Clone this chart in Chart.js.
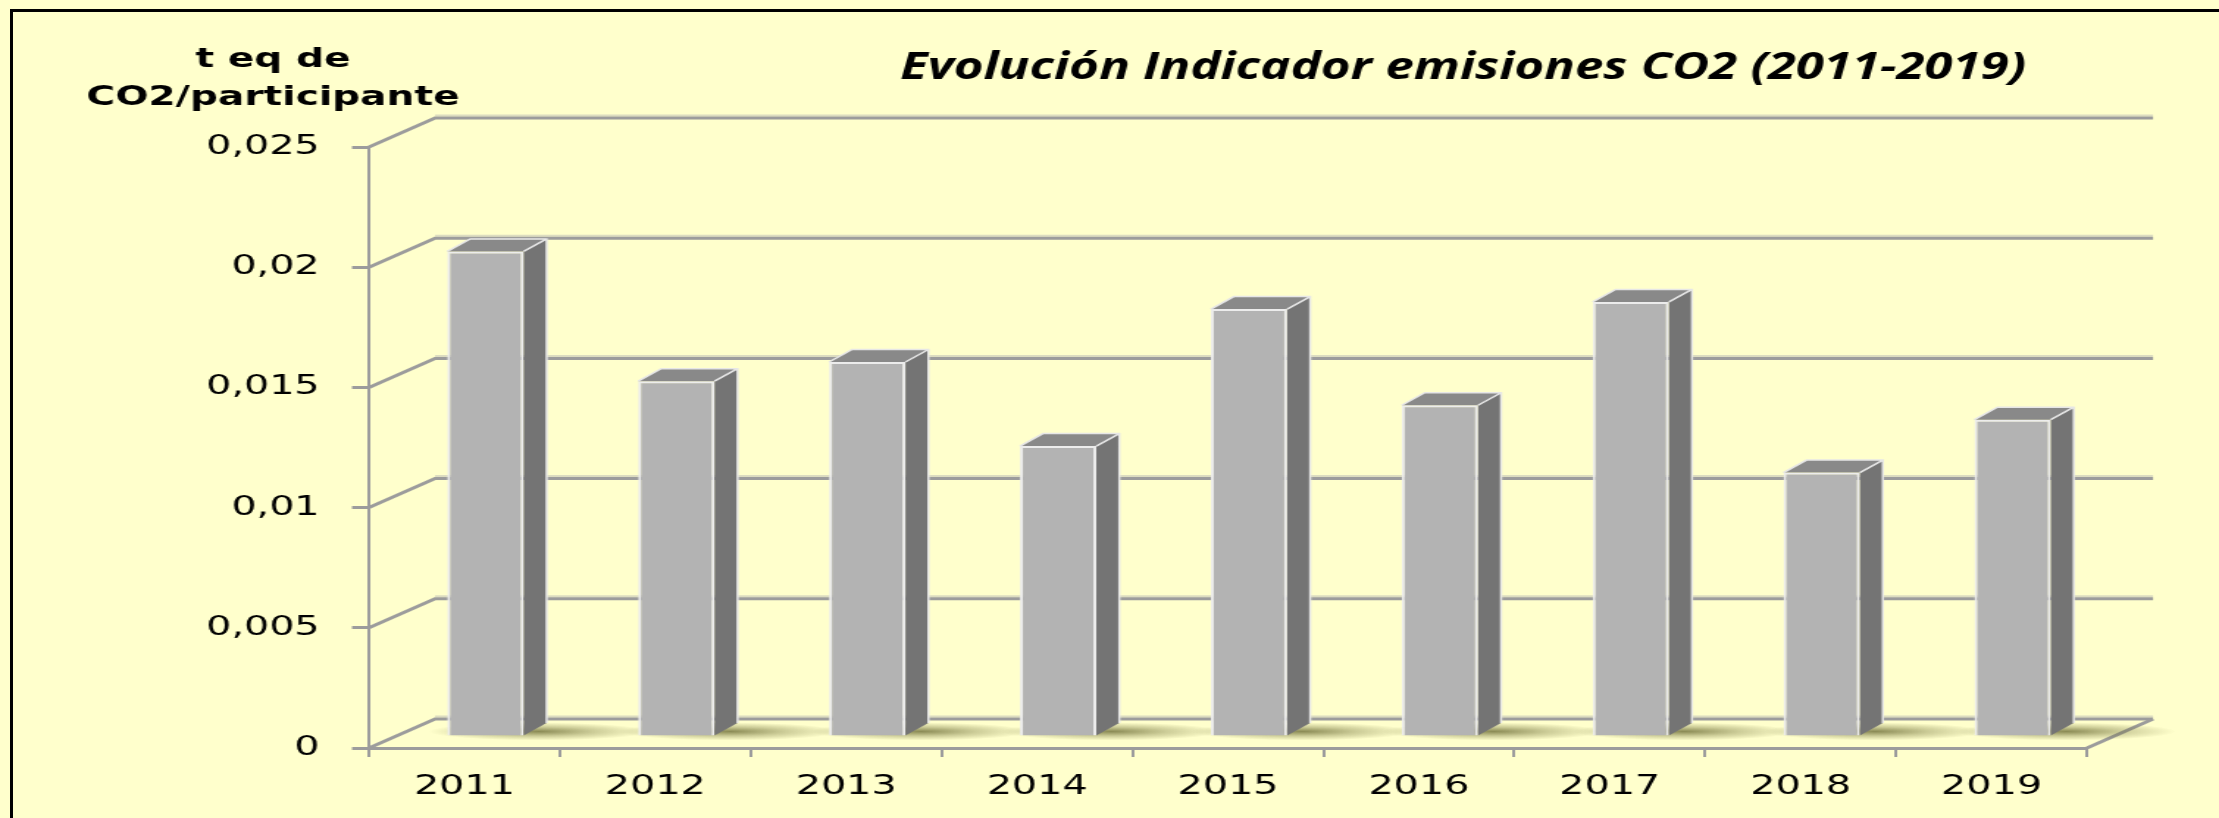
<!DOCTYPE html>
<html lang="es">
<head>
<meta charset="utf-8">
<title>Evolución Indicador emisiones CO2 (2011-2019)</title>
<script src="https://cdn.jsdelivr.net/npm/chart.js@4.4.1/dist/chart.umd.min.js"></script>
<style>
  html, body { margin: 0; padding: 0; background: #ffffcc; overflow: hidden; }
  #chart { position: absolute; left: 0; top: 0; }
  #frame { position: absolute; left: 10px; top: 9px; right: -10px; bottom: -10px;
           border-left: 3px solid #000; border-top: 3px solid #000; pointer-events: none; }
</style>
</head>
<body>
<canvas id="chart" width="1510" height="818" style="width:2219px;height:818px"></canvas>
<div id="frame"></div>
<script>
const years = ['2011', '2012', '2013', '2014', '2015', '2016', '2017', '2018', '2019'];
const emissions = [0.0202, 0.0148, 0.0156, 0.0121, 0.0178, 0.0138, 0.0181, 0.0110, 0.0132];
const yTickLabels = ['0', '0,005', '0,01', '0,015', '0,02', '0,025'];
const chartTitle = 'Evolución Indicador emisiones CO2 (2011-2019)';
const yTitle = ['t eq de', 'CO2/participante'];

// The original picture is stretched sideways, so the canvas is drawn narrower
// and widened by css. sx() turns screen px into canvas px horizontally.
const SX = 2219 / 1510;
const sx = v => v / SX;

const DEPTH = {x: sx(66), y: -29};       // back wall offset
const BAR_SHIFT = {x: sx(21), y: -11};   // bars stand a bit into the floor
const BAR_DEPTH = {x: sx(23), y: -12.5};
const GRID = '#9c9c9c';

const wall3d = {
    id: 'wall3d',
    beforeDatasetsDraw(chart) {
        const {ctx, chartArea: a, scales: {y}} = chart;
        ctx.save();
        y.ticks.forEach(t => {
            const yy = y.getPixelForValue(t.value);
            //light line under the grid line
            ctx.strokeStyle = '#dcdcc0';
            ctx.lineWidth = 2;
            ctx.beginPath();
            ctx.moveTo(a.left + DEPTH.x, yy + DEPTH.y - 2.5);
            ctx.lineTo(a.right + DEPTH.x, yy + DEPTH.y - 2.5);
            ctx.stroke();
            ctx.strokeStyle = GRID;
            ctx.lineWidth = 3;
            ctx.beginPath();
            ctx.moveTo(a.left, yy);
            ctx.lineTo(a.left + DEPTH.x, yy + DEPTH.y);
            ctx.lineTo(a.right + DEPTH.x, yy + DEPTH.y);
            ctx.stroke();
        });
        // right edge of the floor
        const y0 = y.getPixelForValue(0);
        ctx.beginPath();
        ctx.moveTo(a.right, y0);
        ctx.lineTo(a.right + DEPTH.x, y0 + DEPTH.y);
        ctx.stroke();

        // soft shadows on the floor
        chart.getDatasetMeta(0).data.forEach(bar => {
            const cx = bar.x + bar.width / 2 + BAR_SHIFT.x + sx(15);
            const cy = bar.base + BAR_SHIFT.y - 4;
            ctx.save();
            ctx.translate(cx, cy);
            ctx.scale(sx(110) / 9, 1);
            const g = ctx.createRadialGradient(0, 0, 0, 0, 0, 9);
            g.addColorStop(0, 'rgba(110,110,55,0.8)');
            g.addColorStop(0.5, 'rgba(110,110,55,0.35)');
            g.addColorStop(1, 'rgba(110,110,55,0)');
            ctx.fillStyle = g;
            ctx.beginPath();
            ctx.arc(0, 0, 9, 0, Math.PI * 2);
            ctx.fill();
            ctx.restore();
        });
        ctx.restore();

        ctx.save();
        ctx.translate(BAR_SHIFT.x, BAR_SHIFT.y);
    },
    afterDatasetsDraw(chart) {
        const ctx = chart.ctx;
        const dx = BAR_DEPTH.x, dy = BAR_DEPTH.y;
        chart.getDatasetMeta(0).data.forEach(bar => {
            const l = bar.x - bar.width / 2, r = bar.x + bar.width / 2;
            const t = bar.y, b = bar.base;
            ctx.fillStyle = '#747474';
            ctx.beginPath();
            ctx.moveTo(r, t); ctx.lineTo(r + dx, t + dy); ctx.lineTo(r + dx, b + dy); ctx.lineTo(r, b);
            ctx.closePath();
            ctx.fill();
            ctx.fillStyle = '#898989';
            ctx.beginPath();
            ctx.moveTo(l, t); ctx.lineTo(l + dx, t + dy); ctx.lineTo(r + dx, t + dy); ctx.lineTo(r, t);
            ctx.closePath();
            ctx.fill();
            ctx.strokeStyle = '#e6e6e6';
            ctx.lineWidth = 1.5;
            ctx.beginPath();
            ctx.moveTo(l, t); ctx.lineTo(l + dx, t + dy); ctx.lineTo(r + dx, t + dy); ctx.lineTo(r + dx, b + dy);
            ctx.moveTo(r + dx, t + dy); ctx.lineTo(r, t);
            ctx.stroke();
        });
        ctx.restore();
    },
    afterDraw(chart) {
        const ctx = chart.ctx;
        ctx.save();
        ctx.fillStyle = '#000';
        ctx.textAlign = 'center';
        ctx.textBaseline = 'alphabetic';

        // main title, squeezed to the width of the original
        ctx.font = 'italic bold 38px "Open Sans"';
        let k = sx(1126) / ctx.measureText(chartTitle).width;
        ctx.save();
        ctx.translate(sx(1463), 79);
        ctx.scale(k, 1);
        ctx.fillText(chartTitle, 0, 0);
        ctx.restore();

        // y axis title
        ctx.font = 'bold 26px "DejaVu Sans"';
        k = sx(373) / ctx.measureText(yTitle[1]).width;
        ctx.translate(sx(273), 0);
        ctx.scale(k, 1);
        ctx.fillText(yTitle[0], 0, 67);
        ctx.fillText(yTitle[1], 0, 105);
        ctx.restore();
    }
};

const tickFont = {family: 'DejaVu Sans', size: 27};

new Chart(document.getElementById('chart'), {
    type: 'bar',
    data: {
        labels: years,
        datasets: [{
            data: emissions,
            backgroundColor: '#b3b3b3',
            borderColor: '#ececec',
            borderWidth: 2,
            categoryPercentage: 1,
            barPercentage: 0.4,
            clip: false
        }]
    },
    options: {
        responsive: false,
        devicePixelRatio: 1,
        animation: false,
        events: [],
        layout: {padding: {left: 0, top: 147, right: 1510 - sx(2087), bottom: 0}},
        plugins: {
            legend: {display: false},
            tooltip: {enabled: false},
            title: {display: false}
        },
        scales: {
            x: {
                grid: {offset: true, drawOnChartArea: false, tickLength: 9, color: GRID, lineWidth: 2},
                border: {color: GRID, width: 3},
                ticks: {color: '#000', font: tickFont, padding: 14, maxRotation: 0, autoSkip: false},
                afterFit: s => { s.height = 70; }
            },
            y: {
                min: 0,
                max: 0.025,
                grid: {drawOnChartArea: false, tickLength: sx(17), color: GRID, lineWidth: 3},
                border: {color: GRID, width: 2},
                ticks: {
                    stepSize: 0.005,
                    color: '#000',
                    font: tickFont,
                    padding: 22,
                    callback: (v, i) => yTickLabels[i]
                },
                afterFit: s => { s.width = sx(369); }
            }
        }
    },
    plugins: [wall3d]
});
</script>
</body>
</html>
